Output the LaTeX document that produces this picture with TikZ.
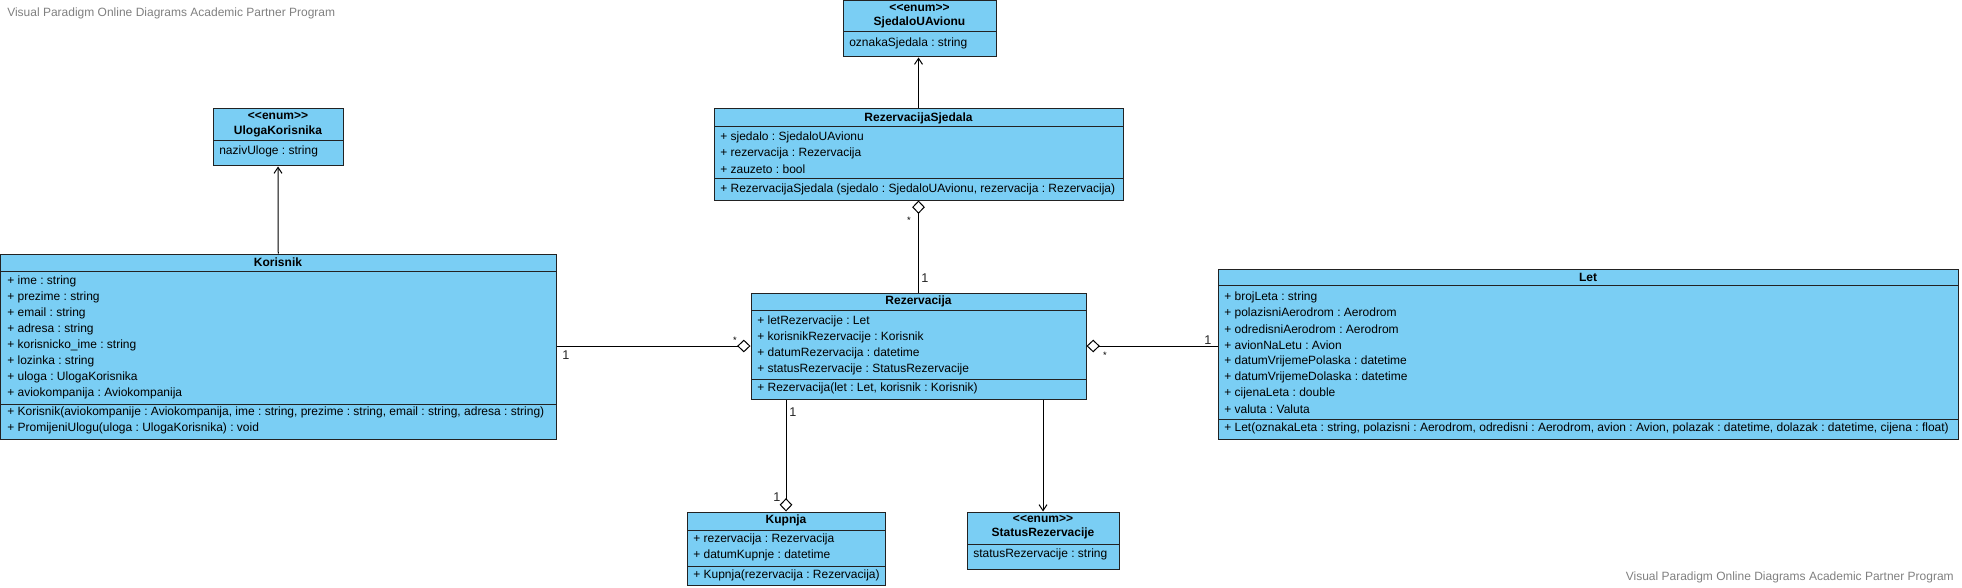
\documentclass[tikz,border=0pt]{standalone}
\usepackage{fontspec}
\setmainfont{Liberation Sans}[Ligatures=TeXOff]
\usetikzlibrary{arrows.meta,fit}
\definecolor{clsfill}{HTML}{7ACEF4}
\definecolor{wmgray}{HTML}{808080}
\definecolor{bordr}{HTML}{222222}
\newcommand{\fsz}{\fontsize{9pt}{10pt}\selectfont}
\frenchspacing
\begin{document}
\begin{tikzpicture}[x=0.75pt,y=-0.75pt,
  cls/.style={draw=bordr, fill=clsfill, line width=0.75pt, inner sep=0pt},
  div/.style={draw=bordr, line width=0.75pt},
  txt/.style={anchor=west, inner sep=0pt, font=\fsz},
  ttl/.style={anchor=center, inner sep=0pt, font=\fsz\bfseries},
  conn/.style={draw=black, line width=0.75pt},
  agg/.style={conn, {Diamond[open,length=10pt,width=9.5pt,line width=0.75pt]}-},
  nav/.style={conn, -{Straight Barb[length=4.5pt,width=6pt,line width=0.75pt]}},
  lbl/.style={inner sep=0pt, font=\fontsize{9.5pt}{10pt}\selectfont, text=black!85},
  star/.style={inner sep=0pt, font=\fontsize{7pt}{8pt}\selectfont},
  wmk/.style={inner sep=0pt, font=\fontsize{9pt}{10pt}\selectfont, text=wmgray}]
\useasboundingbox (0,0) rectangle (1962,588);

% watermarks
\node[wmk, anchor=west] (wm1) at (7,13) {Visual Paradigm Online Diagrams Academic Partner Program};
\node[wmk, anchor=east] (wm2) at (1954,577) {Visual Paradigm Online Diagrams Academic Partner Program};

% SjedaloUAvionu
\node[cls, fit={(843,1) (996,57)}] (sju) {};
\node[ttl] (sju1) at (919.5,8) {<<enum>>};
\node[ttl] (sju2) at (919.5,22) {SjedaloUAvionu};
\draw[div] (843,32) -- (996,32);
\node[txt] (sju3) at (849,43) {oznakaSjedala : string};

% UlogaKorisnika
\node[cls, fit={(213,109) (343,166)}] (uk) {};
\node[ttl] (uk1) at (278,116) {<<enum>>};
\node[ttl] (uk2) at (278,131) {UlogaKorisnika};
\draw[div] (213,141) -- (343,141);
\node[txt] (uk3) at (219,151) {nazivUloge : string};

% RezervacijaSjedala
\node[cls, fit={(714,109) (1123,200)}] (rs) {};
\node[ttl] (rs0) at (918.5,118) {RezervacijaSjedala};
\draw[div] (714,127) -- (1123,127);
\node[txt] (rs1) at (720,137) {+ sjedalo : SjedaloUAvionu};
\node[txt] (rs2) at (720,153) {+ rezervacija : Rezervacija};
\node[txt] (rs3) at (720,169) {+ zauzeto : bool};
\draw[div] (714,179) -- (1123,179);
\node[txt] (rs4) at (720,189) {+ RezervacijaSjedala (sjedalo : SjedaloUAvionu, rezervacija : Rezervacija)};

% Korisnik
\node[cls, fit={(0.5,254) (556,439)}] (kor) {};
\node[ttl] (kor0) at (278,262) {Korisnik};
\draw[div] (0.5,271) -- (556,271);
\node[txt] (kor1) at (7,281) {+ ime : string};
\node[txt] (kor2) at (7,297) {+ prezime : string};
\node[txt] (kor3) at (7,313) {+ email : string};
\node[txt] (kor4) at (7,329) {+ adresa : string};
\node[txt] (kor5) at (7,345) {+ korisnicko\_ime : string};
\node[txt] (kor6) at (7,361) {+ lozinka : string};
\node[txt] (kor7) at (7,377) {+ uloga : UlogaKorisnika};
\node[txt] (kor8) at (7,393) {+ aviokompanija : Aviokompanija};
\draw[div] (0.5,404) -- (556,404);
\node[txt] (kor9) at (7,412) {+ Korisnik(aviokompanije : Aviokompanija, ime : string, prezime : string, email : string, adresa : string)};
\node[txt] (kor10) at (7,428) {+ PromijeniUlogu(uloga : UlogaKorisnika) : void};

% Rezervacija
\node[cls, fit={(751,293) (1086,399)}] (rez) {};
\node[ttl] (rez0) at (918.5,301) {Rezervacija};
\draw[div] (751,310) -- (1086,310);
\node[txt] (rez1) at (757,321) {+ letRezervacije : Let};
\node[txt] (rez2) at (757,337) {+ korisnikRezervacije : Korisnik};
\node[txt] (rez3) at (757,353) {+ datumRezervacija : datetime};
\node[txt] (rez4) at (757,369) {+ statusRezervacije : StatusRezervacije};
\draw[div] (751,379) -- (1086,379);
\node[txt] (rez5) at (757,388) {+ Rezervacija(let : Let, korisnik : Korisnik)};

% Let
\node[cls, fit={(1218,269) (1958,439)}] (let) {};
\node[ttl] (let0) at (1588,277) {Let};
\draw[div] (1218,285) -- (1958,285);
\node[txt] (let1) at (1224,297) {+ brojLeta : string};
\node[txt] (let2) at (1224,313) {+ polazisniAerodrom : Aerodrom};
\node[txt] (let3) at (1224,329) {+ odredisniAerodrom : Aerodrom};
\node[txt] (let4) at (1224,345) {+ avionNaLetu : Avion};
\node[txt] (let5) at (1224,361) {+ datumVrijemePolaska : datetime};
\node[txt] (let6) at (1224,377) {+ datumVrijemeDolaska : datetime};
\node[txt] (let7) at (1224,393) {+ cijenaLeta : double};
\node[txt] (let8) at (1224,409) {+ valuta : Valuta};
\draw[div] (1218,419) -- (1958,419);
\node[txt] (let9) at (1224,428) {+ Let(oznakaLeta : string, polazisni : Aerodrom, odredisni : Aerodrom, avion : Avion, polazak : datetime, dolazak : datetime, cijena : float)};

% Kupnja
\node[cls, fit={(687,512) (885,585)}] (kup) {};
\node[ttl] (kup0) at (786,520) {Kupnja};
\draw[div] (687,530) -- (885,530);
\node[txt] (kup1) at (693,539) {+ rezervacija : Rezervacija};
\node[txt] (kup2) at (693,555) {+ datumKupnje : datetime};
\draw[div] (687,566) -- (885,566);
\node[txt] (kup3) at (693,575) {+ Kupnja(rezervacija : Rezervacija)};

% StatusRezervacije
\node[cls, fit={(967,512) (1119,569)}] (sr) {};
\node[ttl] (sr1) at (1043,519) {<<enum>>};
\node[ttl] (sr2) at (1043,533) {StatusRezervacije};
\draw[div] (967,544) -- (1119,544);
\node[txt] (sr3) at (973,554) {statusRezervacije : string};

% connectors
\draw[nav] (rs.north) -- (rs.north |- sju.south);
\draw[nav] (kor.north) -- (uk.south);
\draw[nav] (rez.south -| sr.north) -- (sr.north);
\draw[agg] (rs.south) -- (rez.north);
\draw[agg] (rez.west) -- (kor.east |- rez.west);
\draw[agg] (rez.east) -- (rez.east -| let.west);
\draw[agg] (kup.north) -- (kup.north |- rez.south);

% multiplicities
\node[star] (m1) at (909,220) {*};
\node[lbl] (m2) at (925,278) {1};
\node[star] (m3) at (735,340) {*};
\node[lbl] (m4) at (566,355) {1};
\node[star] (m5) at (1105,355) {*};
\node[lbl] (m6) at (1208,340) {1};
\node[lbl] (m7) at (793,412) {1};
\node[lbl] (m8) at (777,497) {1};
\end{tikzpicture}
\end{document}
